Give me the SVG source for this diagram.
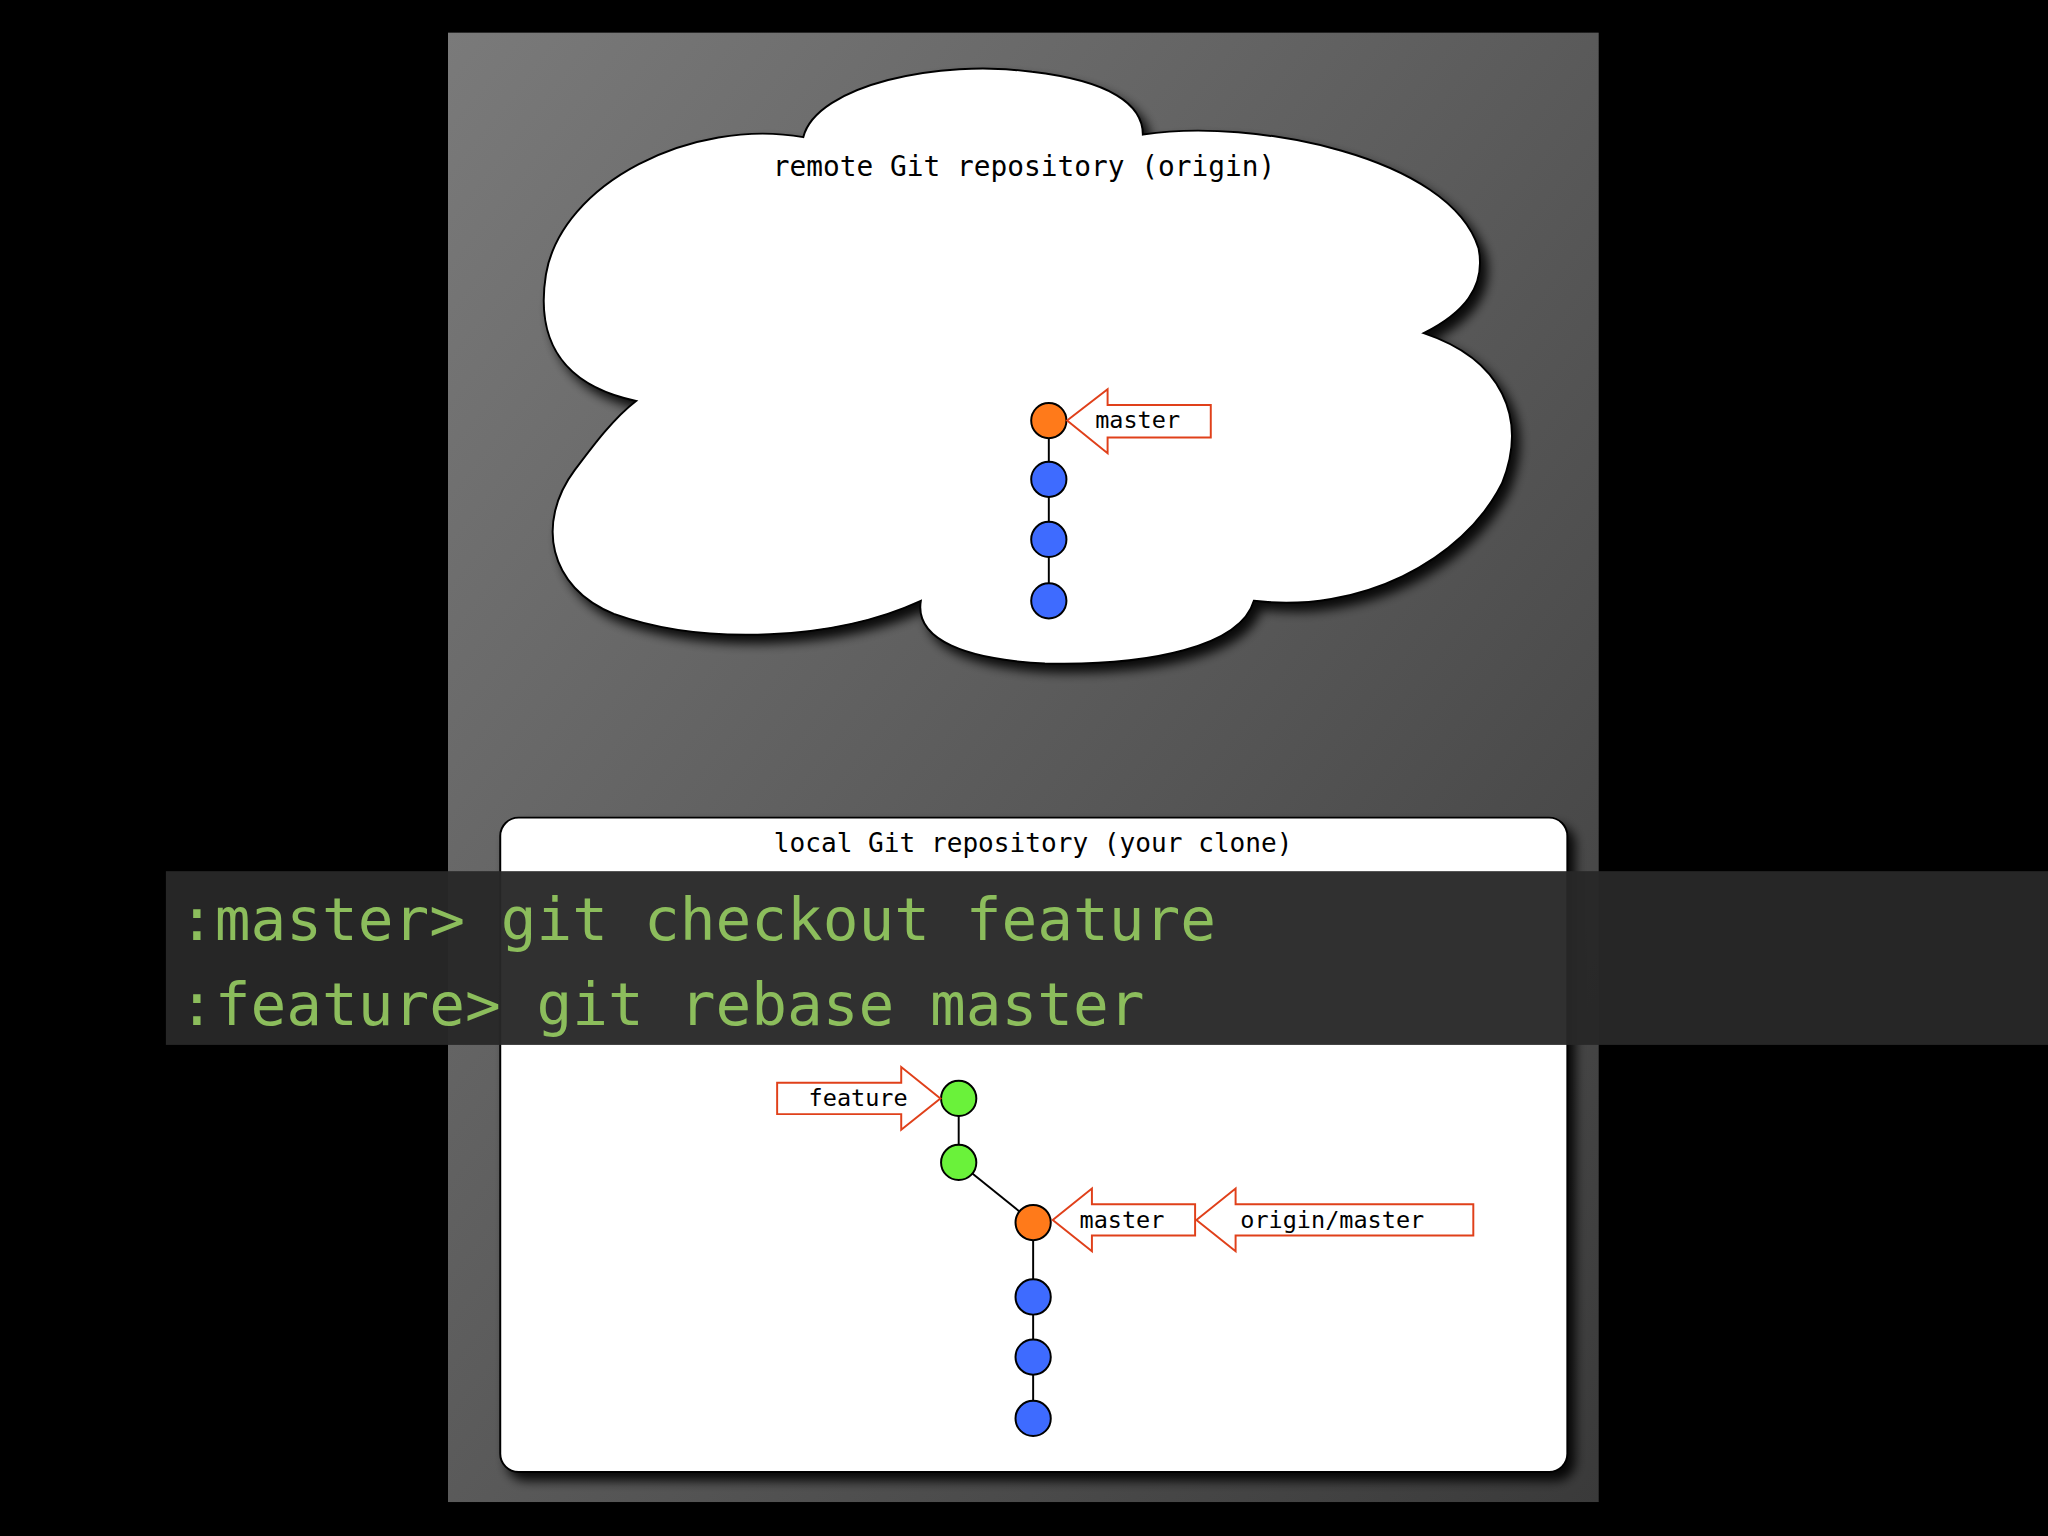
<svg xmlns="http://www.w3.org/2000/svg" width="2048" height="1536" viewBox="0 0 2048 1536">
<defs>
<linearGradient id="bg" x1="0" y1="0" x2="1" y2="1"><stop offset="0" stop-color="#7a7a7a"/><stop offset="1" stop-color="#3a3a3a"/></linearGradient>
<filter id="sh" x="-10%" y="-10%" width="130%" height="130%"><feGaussianBlur in="SourceAlpha" stdDeviation="4"/><feOffset dx="5" dy="6"/><feComponentTransfer><feFuncA type="linear" slope="0.9"/></feComponentTransfer><feMerge><feMergeNode/><feMergeNode in="SourceGraphic"/></feMerge></filter>
<style>
.t{font-family:"DejaVu Sans Mono","Liberation Mono",monospace;fill:#000}
.c{stroke:#000;stroke-width:1.5}
.b{fill:#3e6bff}.o{fill:#ff7a1a}.g{fill:#6af23a}
.ar{fill:#fff;stroke:#e0401a;stroke-width:1.5}
.cmd{font-family:"DejaVu Sans Mono","Liberation Mono",monospace;font-size:45.5px;fill:#8cbd5c}
</style>
</defs>
<rect width="2048" height="1536" fill="#000"/>
<g transform="scale(1.306122)">
<rect x="343" y="25" width="881" height="1125" fill="url(#bg)"/>
<g id="cloud">
<path filter="url(#sh)" fill="#fff" stroke="#000" stroke-width="1.5" d="M615,105 C625,65 720,45 790,55 C850,62 875,80 875,103 C960,90 1110,120 1132,190 C1138,220 1120,240 1090,255 C1150,275 1170,320 1150,370 C1120,430 1040,470 960,460 C950,495 880,510 800,508 C740,505 700,490 705,460 C640,490 540,495 470,470 C420,450 410,400 440,360 C455,340 470,320 487,307 C430,295 410,260 418,210 C430,140 530,90 615,105 Z"/>
<text class="t" x="784" y="135" font-size="21.3" text-anchor="middle">remote Git repository (origin)</text>
</g>
<g id="local">
<rect filter="url(#sh)" x="383" y="626" width="817" height="501" rx="14" fill="#fff" stroke="#000" stroke-width="1.5"/>
<text class="t" x="791" y="652" font-size="20" text-anchor="middle">local Git repository (your clone)</text>
</g>
<g id="connectors" stroke="#000" stroke-width="1.5">
<line x1="803" y1="322" x2="803" y2="460"/>
<line x1="734" y1="841" x2="734" y2="890"/>
<line x1="734" y1="890" x2="791" y2="936"/>
<line x1="791" y1="936" x2="791" y2="1086"/>
</g>
<g id="remote-nodes">
<circle class="c o" cx="803" cy="322" r="13.5"/>
<circle class="c b" cx="803" cy="367" r="13.5"/>
<circle class="c b" cx="803" cy="413" r="13.5"/>
<circle class="c b" cx="803" cy="460" r="13.5"/>
</g>
<g id="remote-master">
<path class="ar" d="M817,322 L848,298 L848,310 L927,310 L927,335 L848,335 L848,347 Z"/>
<text class="t" x="871" y="328" font-size="18" text-anchor="middle">master</text>
</g>
<g id="local-nodes">
<circle class="c g" cx="734" cy="841" r="13.5"/>
<circle class="c g" cx="734" cy="890" r="13.5"/>
<circle class="c o" cx="791" cy="936" r="13.5"/>
<circle class="c b" cx="791" cy="993" r="13.5"/>
<circle class="c b" cx="791" cy="1039" r="13.5"/>
<circle class="c b" cx="791" cy="1086" r="13.5"/>
</g>
<g id="feature">
<path class="ar" d="M720,841 L690,817 L690,829 L595,829 L595,853 L690,853 L690,865 Z"/>
<text class="t" x="657" y="847" font-size="18" text-anchor="middle">feature</text>
</g>
<g id="local-master">
<path class="ar" d="M806,934 L836,910 L836,922 L915,922 L915,946 L836,946 L836,958 Z"/>
<text class="t" x="859" y="940" font-size="18" text-anchor="middle">master</text>
</g>
<g id="origin-master">
<path class="ar" d="M916,934 L946,910 L946,922 L1128,922 L1128,946 L946,946 L946,958 Z"/>
<text class="t" x="1020" y="940" font-size="18" text-anchor="middle">origin/master</text>
</g>
<g id="band">
<rect x="127" y="667" width="1441" height="133" fill="#282828" fill-opacity="0.96"/>
<text class="cmd" x="137" y="720">:master&gt; git checkout feature</text>
<text class="cmd" x="137" y="785">:feature&gt; git rebase master</text>
</g>
</g>
</svg>
